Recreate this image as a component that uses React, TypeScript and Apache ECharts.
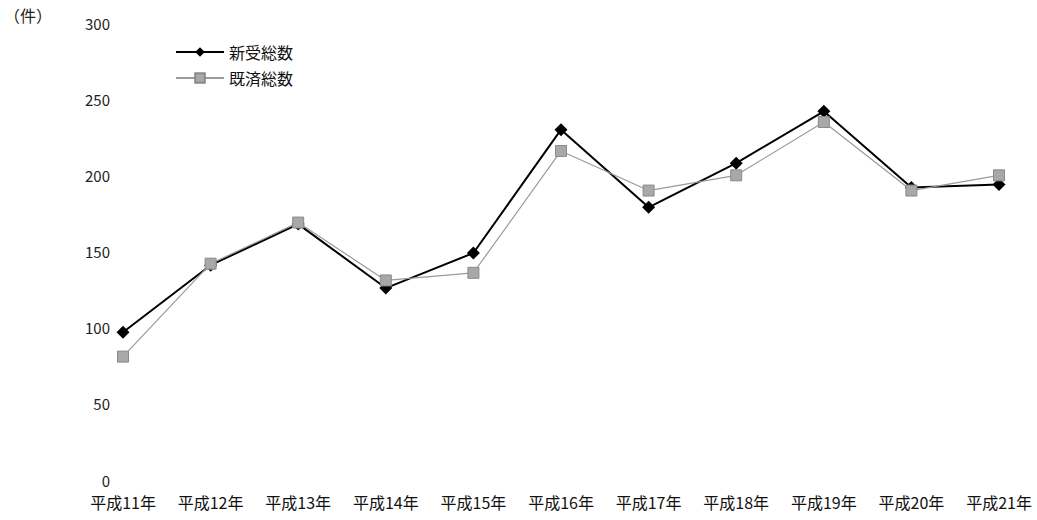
import React, { useEffect, useRef } from "react";
import * as echarts from "echarts";

const categories = ["平成11年", "平成12年", "平成13年", "平成14年", "平成15年", "平成16年", "平成17年", "平成18年", "平成19年", "平成20年", "平成21年"];
const shinjuValues = [97, 141, 168, 126, 149, 230, 179, 208, 242, 192, 194];
const kisaiValues = [81, 142, 169, 131, 136, 216, 190, 200, 235, 190, 200];
const seriesNames = ["新受総数", "既済総数"];
const unitLabel = "（件）";

const FONT = '"Noto Sans CJK JP", "Noto Sans", sans-serif';

export default function App() {
  const ref = useRef<HTMLDivElement>(null);
  useEffect(() => {
    document.body.style.margin = "0";
    if (!ref.current) return;
    const chart = echarts.init(ref.current, null, { renderer: "svg" });
    chart.setOption({
      animation: false,
      backgroundColor: "#ffffff",
      textStyle: { fontFamily: FONT },
      grid: { left: 123, right: 38, top: 23, bottom: 40, containLabel: false },
      legend: {
        orient: "vertical",
        left: 170,
        top: 39,
        itemWidth: 48,
        itemHeight: 12,
        itemGap: 10,
        textStyle: { fontSize: 16, color: "#111", fontFamily: FONT },
        data: seriesNames,
      },
      graphic: [
        {
          type: "text",
          left: 4,
          top: 7,
          style: { text: unitLabel, fontSize: 16, fill: "#222", fontFamily: FONT },
        },
      ],
      xAxis: {
        type: "category",
        data: categories,
        boundaryGap: false,
        axisLine: { show: false },
        axisTick: { show: false },
        splitLine: { show: false },
        axisLabel: { fontSize: 16, lineHeight: 16, color: "#111", margin: 14, interval: 0, fontFamily: FONT },
      },
      yAxis: {
        type: "value",
        min: 0,
        max: 300,
        interval: 50,
        axisLine: { show: false },
        axisTick: { show: false },
        splitLine: { show: false },
        axisLabel: { fontSize: 15, lineHeight: 14, color: "#222", margin: 13, fontFamily: FONT },
      },
      series: [
        {
          name: seriesNames[1],
          type: "line",
          data: kisaiValues,
          symbol: "rect",
          symbolSize: 11,
          lineStyle: { color: "#9a9a9a", width: 1.2 },
          itemStyle: { color: "#a8a8a8", borderColor: "#8a8a8a", borderWidth: 1 },
          z: 2,
        },
        {
          name: seriesNames[0],
          type: "line",
          data: shinjuValues,
          symbol: "diamond",
          symbolSize: 13,
          lineStyle: { color: "#000000", width: 2 },
          itemStyle: { color: "#000000" },
          z: 1,
        },
      ],
    });
    return () => chart.dispose();
  }, []);
  return <div ref={ref} style={{ width: 1037, height: 520 }} />;
}
